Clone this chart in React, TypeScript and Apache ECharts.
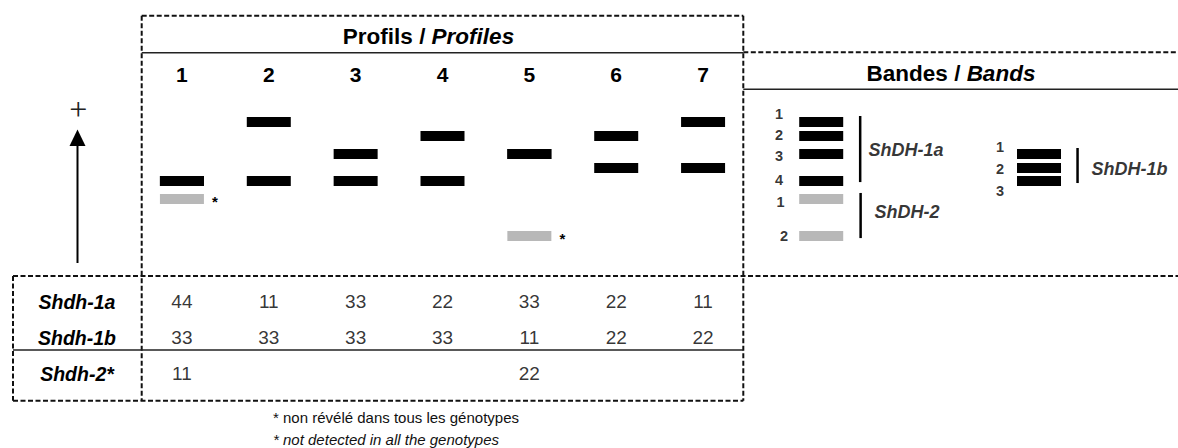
import React, { useEffect, useRef } from 'react';
import * as echarts from 'echarts';

// ---------- data ----------
const PROFILES = ['1', '2', '3', '4', '5', '6', '7'];
const LOCI = ['Shdh-1a', 'Shdh-1b', 'Shdh-2*'];
const SHDH_1A = ['44', '11', '33', '22', '33', '22', '11'];
const SHDH_1B = ['33', '33', '33', '33', '11', '22', '22'];
const SHDH_2 = ['11', '', '', '', '22', '', ''];

// band migration positions (0 = top of gel window, 100 = bottom)
const BAND_1A = [16.2, 25, 36.2, 53.1];
const BAND_1B = [36.2, 45, 53.1];
const BAND_2 = [64.4, 87.5];

// legend (Bandes / Bands) columns, 0..100 across the right panel
const LEG_X_A = 17.6;
const LEG_X_B = 67.9;
const LEG_1A_NUM_X = [7.85, 7.85, 7.85, 7.85];
const LEG_1A_NUM_Y = [11.3, 24.4, 37.3, 52.5];
const LEG_2_NUM_X = [8.2, 9.0];
const LEG_2_NUM_Y = [66.1, 87.5];
const LEG_1B_NUM_X = [58.9, 58.9, 58.9];
const LEG_1B_NUM_Y = [31.7, 45.6, 59.2];
const BRACKETS = [
  { x: 26.6, from: 12.5, to: 53.8 },
  { x: 26.7, from: 60.6, to: 88.8 },
  { x: 76.8, from: 32.5, to: 54.4 },
];
const GENE_LABELS = [
  { name: 'ShDH-1a', x: 28.4, y: 33.8 },
  { name: 'ShDH-2', x: 29.8, y: 72.3 },
  { name: 'ShDH-1b', x: 79.9, y: 45.6 },
];

const FOOTNOTE_FR = '* non révélé dans tous les génotypes';
const FOOTNOTE_EN = '* not detected in all the genotypes';

const FONT = '"Liberation Sans", Arial, Helvetica, sans-serif';

function alleles(g: string): number[] {
  if (!g) return [];
  return Array.from(new Set(g.split('').map((c) => parseInt(c, 10) - 1)));
}

export default function App() {
  const ref = useRef<HTMLDivElement>(null);

  useEffect(() => {
    if (!ref.current) return;
    const chart = echarts.init(ref.current, undefined, { renderer: 'svg' });

    // gel bands derived from genotypes
    const gelData: any[] = [];
    PROFILES.forEach((_, i) => {
      alleles(SHDH_1A[i]).forEach((a) => gelData.push({ value: [i, BAND_1A[a], 1] }));
      alleles(SHDH_1B[i]).forEach((a) => gelData.push({ value: [i, BAND_1B[a], 1] }));
      alleles(SHDH_2[i]).forEach((a) => gelData.push({ value: [i, BAND_2[a], 2] }));
    });

    const legendBands: any[] = [];
    BAND_1A.forEach((y) => legendBands.push({ value: [LEG_X_A, y, 1] }));
    BAND_2.forEach((y) => legendBands.push({ value: [LEG_X_A, y, 3] }));
    BAND_1B.forEach((y) => legendBands.push({ value: [LEG_X_B, y, 1] }));

    const legendNums: any[] = [];
    LEG_1A_NUM_Y.forEach((y, k) => legendNums.push({ value: [LEG_1A_NUM_X[k], y], name: String(k + 1) }));
    LEG_2_NUM_Y.forEach((y, k) => legendNums.push({ value: [LEG_2_NUM_X[k], y], name: String(k + 1) }));
    LEG_1B_NUM_Y.forEach((y, k) => legendNums.push({ value: [LEG_1B_NUM_X[k], y], name: String(k + 1) }));

    const tableData: any[] = [];
    [SHDH_1A, SHDH_1B, SHDH_2].forEach((row, r) => {
      row.forEach((v, i) => {
        if (v) tableData.push({ value: [i, r], name: v });
      });
    });

    const bandRender = (params: any, api: any) => {
      const p = api.coord([api.value(0), api.value(1)]);
      const kind = api.value(2);
      const w = 44;
      const h = 10;
      const children: any[] = [
        {
          type: 'rect',
          shape: { x: p[0] - w / 2, y: p[1] - h / 2, width: w, height: h },
          style: { fill: kind === 1 ? '#000000' : '#b8b8b8' },
        },
      ];
      if (kind === 2) {
        children.push({
          type: 'text',
          x: p[0] + w / 2 + 11,
          y: p[1] + 2,
          style: {
            text: '*',
            font: `bold 15px ${FONT}`,
            fill: '#000',
            align: 'center',
            verticalAlign: 'middle',
          },
        });
      }
      return { type: 'group', children };
    };

    const dashed = { stroke: '#111', lineWidth: 2, lineDash: [5, 2.5] };
    const solid = { stroke: '#222', lineWidth: 1.5 };
    const L = (x1: number, y1: number, x2: number, y2: number, style: any) => ({
      type: 'line',
      silent: true,
      shape: { x1, y1, x2, y2 },
      style,
    });

    const axisHidden = {
      axisLine: { show: false },
      axisTick: { show: false },
      splitLine: { show: false },
      axisLabel: { show: false },
    };

    const option: any = {
      animation: false,
      backgroundColor: '#ffffff',
      textStyle: { fontFamily: FONT },
      grid: [
        { left: 138.5, width: 608, top: 96, height: 160 },
        { left: 745, width: 433, top: 96, height: 160 },
        { left: 138.5, width: 608, top: 283.7, height: 108 },
      ],
      xAxis: [
        {
          gridIndex: 0,
          type: 'category',
          data: PROFILES,
          position: 'top',
          axisLine: { show: false },
          axisTick: { show: false },
          splitLine: { show: false },
          axisLabel: {
            show: true,
            fontSize: 21,
            fontWeight: 'bold',
            color: '#000',
            margin: 22,
            verticalAlign: 'middle',
            fontFamily: FONT,
          },
        },
        { gridIndex: 1, type: 'value', min: 0, max: 100, ...axisHidden },
        { gridIndex: 2, type: 'category', data: PROFILES, ...axisHidden },
      ],
      yAxis: [
        { gridIndex: 0, type: 'value', min: 0, max: 100, inverse: true, ...axisHidden },
        { gridIndex: 1, type: 'value', min: 0, max: 100, inverse: true, ...axisHidden },
        {
          gridIndex: 2,
          type: 'category',
          data: LOCI,
          inverse: true,
          axisLine: { show: false },
          axisTick: { show: false },
          splitLine: { show: false },
          axisLabel: {
            show: true,
            align: 'center',
            margin: 61.5,
            fontSize: 19.5,
            fontWeight: 'bold',
            fontStyle: 'italic',
            color: '#000',
            fontFamily: FONT,
          },
        },
      ],
      series: [
        {
          type: 'custom',
          xAxisIndex: 0,
          yAxisIndex: 0,
          silent: true,
          data: gelData,
          renderItem: bandRender,
        },
        {
          type: 'custom',
          xAxisIndex: 1,
          yAxisIndex: 1,
          silent: true,
          data: legendBands,
          renderItem: bandRender,
        },
        {
          type: 'custom',
          xAxisIndex: 1,
          yAxisIndex: 1,
          silent: true,
          data: BRACKETS.map((b) => ({ value: [b.x, b.from, b.to] })),
          renderItem: (params: any, api: any) => {
            const a = api.coord([api.value(0), api.value(1)]);
            const b = api.coord([api.value(0), api.value(2)]);
            return {
              type: 'line',
              shape: { x1: a[0], y1: a[1], x2: b[0], y2: b[1] },
              style: { stroke: '#000', lineWidth: 2.5 },
            };
          },
        },
        {
          type: 'scatter',
          xAxisIndex: 1,
          yAxisIndex: 1,
          silent: true,
          symbolSize: 1,
          itemStyle: { color: 'rgba(0,0,0,0)' },
          data: legendNums,
          label: {
            show: true,
            position: 'inside',
            formatter: '{b}',
            fontSize: 14.5,
            fontWeight: 'bold',
            color: '#000',
            fontFamily: FONT,
          },
        },
        {
          type: 'scatter',
          xAxisIndex: 1,
          yAxisIndex: 1,
          silent: true,
          symbolSize: 1,
          itemStyle: { color: 'rgba(0,0,0,0)' },
          data: GENE_LABELS.map((g) => ({ value: [g.x, g.y], name: g.name })),
          label: {
            show: true,
            position: 'right',
            distance: 0,
            formatter: '{b}',
            fontSize: 18,
            fontWeight: 'bold',
            fontStyle: 'italic',
            color: '#000',
            fontFamily: FONT,
          },
        },
        {
          type: 'scatter',
          xAxisIndex: 2,
          yAxisIndex: 2,
          silent: true,
          symbolSize: 1,
          itemStyle: { color: 'rgba(0,0,0,0)' },
          data: tableData,
          label: {
            show: true,
            position: 'inside',
            formatter: '{b}',
            fontSize: 19,
            color: '#000',
            fontFamily: FONT,
          },
        },
      ],
      graphic: [
        // dashed frame
        L(141.7, 15.7, 743.3, 15.7, dashed),
        L(743.3, 52.3, 1178, 52.3, dashed),
        L(13, 276, 1178, 276, dashed),
        L(13, 400.7, 743.3, 400.7, dashed),
        L(13, 276, 13, 400.7, dashed),
        L(141.7, 15.7, 141.7, 400.7, dashed),
        L(743.3, 15.7, 743.3, 400.7, dashed),
        // solid separators
        L(141.7, 52.7, 743.3, 52.7, solid),
        L(743.3, 89.3, 1178, 89.3, solid),
        L(13, 350, 743.3, 350, solid),
        // migration arrow
        L(77.5, 263, 77.5, 144, { stroke: '#000', lineWidth: 2 }),
        {
          type: 'polygon',
          silent: true,
          shape: { points: [[77.5, 129.5], [69.5, 146], [85.5, 146]] },
          style: { fill: '#000' },
        },
        {
          type: 'text',
          silent: true,
          x: 78.3,
          y: 109.3,
          style: {
            text: '+',
            fontSize: 32,
            fontFamily: '"Liberation Serif", "Times New Roman", serif',
            fill: '#222222',
            align: 'center',
            verticalAlign: 'middle',
          },
        },
        // headings
        {
          type: 'text',
          silent: true,
          x: 428.5,
          y: 36.7,
          style: {
            text: '{a|Profils / }{b|Profiles}',
            align: 'center',
            verticalAlign: 'middle',
            rich: {
              a: { fontSize: 22.5, fontWeight: 'bold', fontFamily: FONT, fill: '#000' },
              b: { fontSize: 22.5, fontWeight: 'bold', fontStyle: 'italic', fontFamily: FONT, fill: '#000' },
            },
          },
        },
        {
          type: 'text',
          silent: true,
          x: 951,
          y: 73.3,
          style: {
            text: '{a|Bandes / }{b|Bands}',
            align: 'center',
            verticalAlign: 'middle',
            rich: {
              a: { fontSize: 22.5, fontWeight: 'bold', fontFamily: FONT, fill: '#000' },
              b: { fontSize: 22.5, fontWeight: 'bold', fontStyle: 'italic', fontFamily: FONT, fill: '#000' },
            },
          },
        },
        // footnotes
        {
          type: 'text',
          silent: true,
          x: 273,
          y: 417,
          style: {
            text: FOOTNOTE_FR,
            font: `15px ${FONT}`,
            fill: '#111',
            align: 'left',
            verticalAlign: 'middle',
          },
        },
        {
          type: 'text',
          silent: true,
          x: 273,
          y: 439.5,
          style: {
            text: FOOTNOTE_EN,
            font: `italic 15px ${FONT}`,
            fill: '#111',
            align: 'left',
            verticalAlign: 'middle',
          },
        },
      ],
    };

    chart.setOption(option);
    return () => {
      chart.dispose();
    };
  }, []);

  return (
    <div
      ref={ref}
      style={{ position: 'absolute', left: 0, top: 0, width: 1178, height: 448, background: '#fff' }}
    />
  );
}
